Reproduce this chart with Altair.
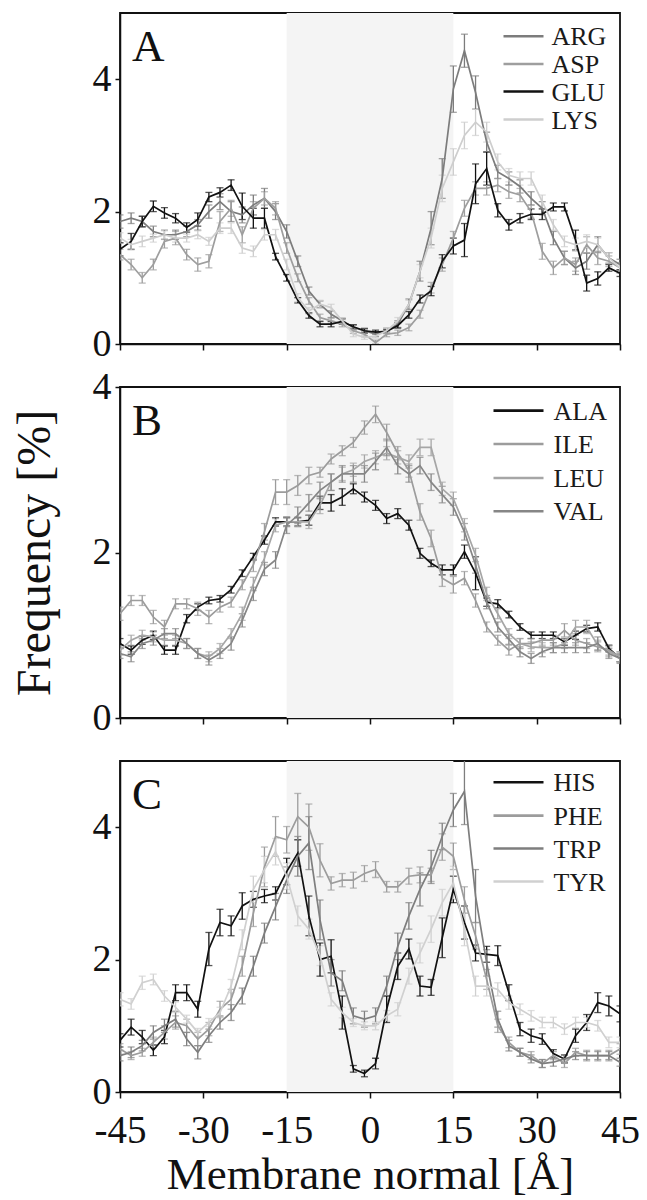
import altair as alt
import pandas as pd

# bin centres along the membrane normal (Angstrom)
X = list(range(-45, 46, 2))
XTICKS = [-45, -30, -15, 0, 15, 30, 45]
YTICKS = [0, 2, 4]

# ---------------- panel A ----------------
A_NAMES = ["ARG", "ASP", "GLU", "LYS"]
A_COLORS = ["#7c7c7c", "#9e9e9e", "#111111", "#cecece"]
ARG = [1.85,1.90,1.85,1.70,1.65,1.65,1.70,1.80,2.00,2.15,2.00,1.95,2.10,2.20,2.00,1.70,1.25,0.80,0.60,0.45,0.35,0.25,0.20,0.15,0.20,0.30,0.60,1.10,1.75,2.50,3.85,4.43,3.80,3.05,2.60,2.50,2.38,2.20,2.05,1.60,1.30,1.15,1.25,1.50,1.30,1.20]
ASP = [1.35,1.20,1.00,1.20,1.55,1.60,1.35,1.20,1.25,1.85,2.05,1.65,2.05,2.20,2.05,1.45,1.00,0.65,0.40,0.35,0.30,0.20,0.15,0.02,0.15,0.17,0.25,0.45,0.85,1.20,1.60,2.05,2.35,2.35,2.40,2.30,2.25,2.00,1.40,1.15,1.30,1.20,1.50,1.30,1.25,1.15]
GLU = [1.43,1.55,1.85,2.08,1.98,1.90,1.76,1.88,2.22,2.29,2.40,2.08,1.90,1.90,1.32,1.00,0.66,0.43,0.30,0.30,0.34,0.26,0.20,0.18,0.19,0.28,0.44,0.68,0.80,1.25,1.48,1.57,2.42,2.65,2.02,1.80,1.90,1.96,1.96,2.07,2.07,1.57,0.92,0.99,1.15,1.07]
LYS = [1.60,1.50,1.55,1.60,1.65,1.60,1.60,1.65,1.55,1.75,1.75,1.45,1.40,1.65,1.65,1.20,0.70,0.50,0.60,0.55,0.35,0.15,0.10,0.12,0.20,0.35,0.60,1.10,1.60,2.35,2.75,3.15,3.35,3.20,2.75,2.55,2.50,2.50,2.15,1.80,1.55,1.50,1.55,1.50,1.30,1.15]
ARG_E = [0.10,0.08,0.08,0.08,0.07,0.07,0.08,0.08,0.10,0.12,0.15,0.12,0.15,0.15,0.12,0.10,0.08,0.06,0.05,0.05,0.04,0.04,0.04,0.04,0.04,0.05,0.08,0.15,0.25,0.30,0.35,0.25,0.25,0.15,0.10,0.10,0.10,0.10,0.10,0.10,0.10,0.10,0.12,0.12,0.08,0.08]
ASP_E = [0.08,0.08,0.08,0.08,0.10,0.10,0.08,0.10,0.10,0.15,0.12,0.12,0.10,0.10,0.10,0.08,0.06,0.05,0.05,0.04,0.04,0.04,0.04,0.04,0.04,0.04,0.05,0.06,0.08,0.10,0.10,0.12,0.10,0.10,0.10,0.10,0.10,0.10,0.12,0.10,0.10,0.10,0.12,0.10,0.08,0.08]
GLU_E = [0.10,0.12,0.08,0.08,0.08,0.07,0.07,0.10,0.07,0.07,0.08,0.20,0.15,0.15,0.05,0.05,0.04,0.04,0.04,0.04,0.04,0.03,0.03,0.03,0.03,0.04,0.05,0.06,0.07,0.10,0.12,0.25,0.30,0.25,0.10,0.08,0.07,0.08,0.08,0.06,0.06,0.15,0.12,0.10,0.05,0.05]
LYS_E = [0.08,0.08,0.08,0.06,0.06,0.06,0.06,0.06,0.06,0.08,0.08,0.08,0.08,0.08,0.08,0.08,0.06,0.05,0.06,0.05,0.04,0.04,0.03,0.03,0.04,0.05,0.06,0.10,0.15,0.20,0.20,0.20,0.20,0.15,0.12,0.10,0.10,0.10,0.10,0.08,0.08,0.10,0.10,0.10,0.08,0.06]

# ---------------- panel B ----------------
B_NAMES = ["ALA", "ILE", "LEU", "VAL"]
B_COLORS = ["#111111", "#9c9c9c", "#a6a6a6", "#868686"]
ALA = [0.90,0.82,0.94,1.00,0.82,0.82,1.20,1.34,1.42,1.44,1.55,1.75,1.95,2.15,2.37,2.37,2.37,2.39,2.60,2.60,2.67,2.77,2.67,2.57,2.41,2.47,2.33,1.99,1.87,1.79,1.79,2.01,1.75,1.40,1.38,1.25,1.10,1.00,1.00,1.00,0.92,1.00,1.08,1.10,0.84,0.72]
ILE = [1.26,1.42,1.42,1.22,1.10,1.38,1.38,1.32,1.22,1.34,1.40,1.61,1.85,2.25,2.73,2.73,2.81,2.93,2.97,3.13,3.23,3.33,3.51,3.67,3.45,3.20,2.99,2.49,2.17,1.69,1.61,1.69,1.42,1.10,0.94,0.82,0.90,0.90,0.94,0.94,1.06,0.94,0.90,0.86,0.82,0.74]
LEU = [0.82,0.94,1.00,0.98,0.94,0.94,0.90,0.78,0.74,0.84,1.02,1.26,1.62,1.93,2.33,2.37,2.37,2.37,2.57,2.85,2.95,3.00,3.10,3.15,3.20,3.15,3.10,3.27,3.27,2.77,2.65,2.33,1.97,1.50,1.26,1.02,0.90,0.86,0.85,0.85,0.90,1.10,1.10,0.88,0.80,0.74]
VAL = [0.78,0.74,0.90,0.94,1.02,1.02,0.90,0.78,0.70,0.78,0.90,1.18,1.50,1.80,1.91,2.33,2.45,2.60,2.75,2.85,2.95,2.95,2.95,3.10,3.27,3.05,2.95,3.05,2.85,2.70,2.55,2.25,1.85,1.40,1.10,0.95,0.80,0.72,0.80,0.85,0.85,0.85,0.85,0.90,0.78,0.72]
ALA_E = [0.06,0.05,0.05,0.05,0.05,0.05,0.05,0.04,0.04,0.04,0.04,0.04,0.04,0.05,0.05,0.05,0.05,0.06,0.08,0.10,0.10,0.06,0.06,0.06,0.06,0.06,0.06,0.06,0.04,0.06,0.06,0.08,0.20,0.05,0.05,0.04,0.04,0.04,0.04,0.04,0.04,0.05,0.04,0.05,0.04,0.04]
ILE_E = [0.08,0.06,0.06,0.08,0.08,0.06,0.06,0.08,0.08,0.06,0.06,0.06,0.08,0.10,0.15,0.15,0.12,0.10,0.06,0.06,0.06,0.06,0.08,0.10,0.10,0.08,0.08,0.10,0.10,0.10,0.10,0.08,0.08,0.06,0.06,0.06,0.06,0.06,0.06,0.06,0.08,0.06,0.06,0.06,0.06,0.06]
LEU_E = [0.06,0.06,0.06,0.06,0.06,0.06,0.06,0.06,0.06,0.06,0.06,0.08,0.08,0.08,0.08,0.06,0.06,0.08,0.10,0.10,0.08,0.08,0.08,0.08,0.08,0.08,0.08,0.10,0.10,0.08,0.08,0.08,0.08,0.08,0.06,0.06,0.06,0.06,0.06,0.06,0.06,0.08,0.08,0.06,0.06,0.06]
VAL_E = [0.06,0.06,0.06,0.06,0.06,0.06,0.06,0.06,0.06,0.06,0.08,0.08,0.08,0.08,0.10,0.10,0.10,0.10,0.10,0.10,0.10,0.10,0.10,0.10,0.10,0.10,0.10,0.10,0.10,0.10,0.10,0.10,0.10,0.08,0.06,0.06,0.06,0.06,0.06,0.06,0.06,0.06,0.06,0.08,0.06,0.06]

# ---------------- panel C ----------------
C_NAMES = ["HIS", "PHE", "TRP", "TYR"]
C_COLORS = ["#111111", "#9c9c9c", "#7e7e7e", "#d0d0d0"]
HIS = [0.78,0.98,0.83,0.63,0.83,1.50,1.50,1.25,2.16,2.56,2.51,2.81,2.91,2.96,3.00,3.33,3.61,2.66,2.00,2.05,1.20,0.35,0.28,0.43,1.25,1.90,2.16,1.60,1.58,2.33,3.06,2.56,2.10,2.08,2.06,1.50,0.95,0.85,0.80,0.58,0.50,0.85,1.05,1.35,1.30,1.18]
PHE = [0.65,0.55,0.60,0.75,0.90,1.05,1.00,0.80,0.95,1.25,1.40,1.90,2.70,3.40,3.86,3.81,4.16,4.00,3.50,3.15,3.20,3.20,3.30,3.36,3.10,3.10,3.26,3.28,3.28,3.70,3.56,2.90,2.36,1.70,1.00,0.75,0.60,0.55,0.43,0.55,0.43,0.60,0.55,0.55,0.55,0.65]
TRP = [0.55,0.60,0.70,0.90,1.00,1.10,0.80,0.60,0.85,1.05,1.20,1.45,1.90,2.40,2.80,3.20,3.56,3.76,2.60,1.80,1.68,1.15,1.10,1.15,1.60,2.20,2.66,3.06,3.40,3.86,4.26,4.54,2.96,1.95,1.10,0.70,0.60,0.50,0.43,0.45,0.50,0.55,0.55,0.55,0.55,0.45]
TYR = [1.40,1.33,1.65,1.70,1.45,1.28,1.10,0.90,1.05,1.20,1.60,2.30,3.06,3.36,3.63,3.26,2.66,2.46,2.06,1.40,1.20,1.05,1.00,1.00,1.15,1.25,1.75,2.10,2.46,2.86,3.16,2.46,1.60,1.60,1.55,1.35,1.25,1.15,1.05,1.05,0.95,1.05,1.05,1.00,0.75,0.75]
HIS_E = [0.10,0.12,0.10,0.08,0.10,0.12,0.12,0.12,0.25,0.20,0.15,0.20,0.12,0.10,0.10,0.20,0.20,0.30,0.25,0.25,0.25,0.05,0.05,0.08,0.20,0.20,0.15,0.15,0.12,0.30,0.20,0.25,0.12,0.12,0.15,0.12,0.10,0.10,0.08,0.06,0.06,0.10,0.12,0.15,0.15,0.12]
PHE_E = [0.08,0.06,0.06,0.08,0.10,0.10,0.10,0.10,0.10,0.12,0.15,0.15,0.20,0.30,0.30,0.20,0.35,0.35,0.25,0.10,0.10,0.12,0.12,0.12,0.08,0.08,0.12,0.12,0.10,0.20,0.20,0.20,0.20,0.15,0.10,0.08,0.06,0.06,0.06,0.06,0.06,0.06,0.08,0.08,0.08,0.08]
TRP_E = [0.08,0.08,0.08,0.10,0.10,0.12,0.10,0.10,0.10,0.10,0.12,0.12,0.15,0.15,0.20,0.20,0.30,0.40,0.30,0.20,0.15,0.12,0.12,0.12,0.15,0.20,0.20,0.25,0.25,0.20,0.25,0.50,0.40,0.20,0.12,0.08,0.06,0.06,0.06,0.06,0.06,0.06,0.06,0.06,0.06,0.06]
TYR_E = [0.10,0.08,0.10,0.08,0.08,0.08,0.06,0.06,0.06,0.08,0.10,0.15,0.20,0.20,0.20,0.20,0.15,0.15,0.15,0.10,0.08,0.06,0.06,0.06,0.08,0.10,0.12,0.15,0.20,0.20,0.25,0.25,0.15,0.15,0.10,0.10,0.08,0.08,0.08,0.08,0.08,0.08,0.08,0.08,0.08,0.08]

FONT = "Liberation Serif"
W, H = 500, 331
SHADE = ("#f4f4f4", -15, 15)


def panel(letter, names, colors, values, errors, ymax, legend_rows, legend_x0,
          legend_tx, x_labels, y_title):
    rows = []
    for n, vals, errs in zip(names, values, errors):
        for x, v, e in zip(X, vals, errs):
            rows.append({"series": n, "x": x, "y": v,
                         "lo": max(v - e, 0.0), "hi": v + e})
    df = pd.DataFrame(rows)

    xscale = alt.Scale(domain=[-45, 45], nice=False, zero=False)
    yscale = alt.Scale(domain=[0, ymax], nice=False)
    xaxis = alt.Axis(values=XTICKS, labels=x_labels, grid=False, tickSize=6,
                     tickWidth=1.5, labelFontSize=39, labelPadding=13,
                     labelOverlap=False, labelFlush=False,
                     labelExpr="toString(datum.value)",
                     title="Membrane normal [Å]" if x_labels else "",
                     titleFontSize=45, titlePadding=2)
    yaxis = alt.Axis(values=YTICKS, grid=False, tickSize=5, tickWidth=1.5,
                     labelFontSize=38, labelPadding=4, labelFlush=False,
                     labelOverlap=False, title=y_title,
                     titleFontSize=48, titlePadding=33)
    color = alt.Color("series:N", scale=alt.Scale(domain=names, range=colors),
                      legend=None)

    shade = alt.Chart(pd.DataFrame({"x": [SHADE[1]], "x2": [SHADE[2]]})).mark_rect(
        color=SHADE[0]).encode(
        x=alt.X("x:Q", scale=xscale, axis=xaxis), x2="x2:Q",
        y=alt.value(0), y2=alt.value(H))

    bars = alt.Chart(df).mark_errorbar(ticks=True, size=7, thickness=1.3,
                                       clip=True).encode(
        x=alt.X("x:Q", scale=xscale, axis=xaxis),
        y=alt.Y("lo:Q", scale=yscale, axis=yaxis), y2="hi:Q", color=color)

    lines = alt.Chart(df).mark_line(strokeWidth=1.7, clip=True).encode(
        x=alt.X("x:Q", scale=xscale, axis=xaxis),
        y=alt.Y("y:Q", scale=yscale, axis=yaxis), color=color)

    layers = [shade, bars, lines]
    for n, c, ry in zip(names, colors, legend_rows):
        ld = pd.DataFrame({"t": [n]})
        layers.append(alt.Chart(ld).mark_rule(color=c, strokeWidth=2.6).encode(
            x=alt.value(legend_x0), x2=alt.value(423.5), y=alt.value(ry)))
        layers.append(alt.Chart(ld).mark_text(
            font=FONT, fontSize=26, align="left", baseline="middle",
            color="#1a1a1a").encode(
            x=alt.value(legend_tx), y=alt.value(ry + 1), text="t:N"))
    layers.append(alt.Chart(pd.DataFrame({"t": [letter]})).mark_text(
        font=FONT, fontSize=45, align="left", baseline="alphabetic",
        color="#111111").encode(x=alt.value(12), y=alt.value(48), text="t:N"))

    return alt.layer(*layers).properties(width=W, height=H)


pa = panel("A", A_NAMES, A_COLORS, [ARG, ASP, GLU, LYS],
           [ARG_E, ASP_E, GLU_E, LYS_E], 5, [23.3, 51, 78.5, 106.5],
           383.5, 431.5, False, "")
pb = panel("B", B_NAMES, B_COLORS, [ALA, ILE, LEU, VAL],
           [ALA_E, ILE_E, LEU_E, VAL_E], 4, [23.6, 57, 91, 124.3],
           373.5, 433.5, False, "Frequency [%]")
pc = panel("C", C_NAMES, C_COLORS, [HIS, PHE, TRP, TYR],
           [HIS_E, PHE_E, TRP_E, TYR_E], 5, [21.3, 54.6, 87.5, 120.5],
           373.5, 433.5, True, "")

chart = alt.vconcat(pa, pb, pc, spacing=43, bounds="flush").resolve_scale(
    color="independent"
).properties(
    padding={"left": 10, "top": 12, "right": 2, "bottom": 0},
    background="white",
).configure_axis(
    labelFont=FONT, titleFont=FONT, labelColor="#111111", titleColor="#111111",
    tickColor="#111111", domainColor="#111111", domainWidth=1.5,
    titleFontWeight="normal",
).configure_view(stroke="#111111", strokeWidth=1.8)

chart.save("out.html", embed_options={"renderer": "svg", "actions": False})
